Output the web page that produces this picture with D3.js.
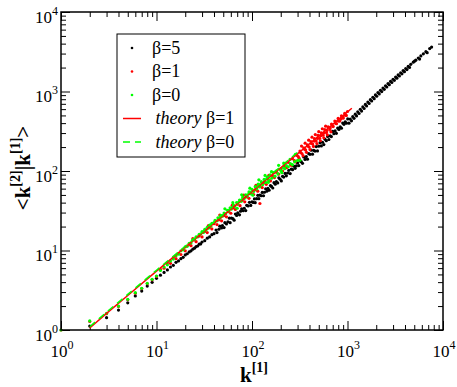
<!DOCTYPE html>
<html>
<head>
<meta charset="utf-8">
<script src="https://cdn.jsdelivr.net/npm/d3@7"></script>
<style>
  body { margin: 0; background: #fff; }
  svg text { font-family: "Liberation Serif", Tinos, "Times New Roman", Times, "DejaVu Serif", serif; }
</style>
</head>
<body>
<div id="grafico"></div>
<script>
// beta = 5 (black)
const beta5 = [
  [2,1.12],[3,1.43],[4,1.78],[5,2.2],[6,2.68],[7,3.09],[8,3.57],[9,3.98],[10,4.47],
  [11,4.9],[12,5.3],[13,5.7],[14,6.2],[15,6.5],[16,7.1],[17,7.4],[18,7.9],[19,8.2],[20,8.8],
  [21,9.1],[22,9.6],[23,9.9],[24,10.4],[25,10.7],[26,11.2],[27,11.4],[28,12.0],[29,12.1],[30,12.8],
  [32,13.3],[34,14.3],[36,14.8],[38,15.8],[40,16.3],
  [42,18.1],[43,16.8],[45,18.5],[46,20.2],[48,19.2],[49,20.6],[51,19.4],[52,22.4],[54,21.6],[56,23.0],
  [58,25.5],[59,22.4],[61,25.6],[63,25.2],[65,24.1],[67,28.8],[69,27.6],[71,29.8],[74,28.1],[76,31.2],
  [78,33.5],[81,31.6],[83,34.0],[86,31.8],[88,37.0],[91,36.4],[94,40.4],[97,36.9],[100,41.0],[103,40.2],
  [106,44.5],[108,40.0],[112,44.8],[115,49.5],[118,44.8],[121,49.6],[125,48.8],[128,53.8],[132,48.8],[135,54.0],
  [139,59.8],[143,55.8],[147,60.3],[151,57.4],[156,65.5],[160,64.0],[165,61.1],[170,71.4],[175,68.3],[180,73.8],
  [186,70.7],[191,82.1],[197,78.8],[203,75.1],[209,85.7],[215,83.9],[222,93.2],[229,87.0],[236,94.4],[243,102],
  [251,92.9],[258,106],[266,104],[274,115],[283,108],[291,116],[300,126],
  [309,117],[318,134],[328,131],[338,125],[348,150],[359,140],[370,152],[381,141],[393,165],[405,162],
  [417,183],[430,163],[443,182],[457,178],[471,203],[485,179],[500,205],[516,227],[532,207],[548,230],
  [565,215],[582,250],[600,240],[619,272],[638,249],[658,276],[678,271],[699,315],[720,295],[742,319],
  [765,298],[789,347],[813,333],[838,360],[864,346],[891,401],[918,386],[946,416],[975,400],[1005,452],
  [1036,400],[1068,450],[1101,428],[1135,482],[1170,460],[1206,518],[1243,493],[1281,555],[1321,529],[1362,596],
  [1404,568],[1447,640],[1492,611],[1538,687],[1585,657],[1634,736],[1684,706],[1736,789],[1790,759],[1845,846],
  [1902,813],[1961,905],[2022,871],[2084,968],[2148,932],[2214,1034],[2283,998],[2353,1103],[2426,1066],[2501,1178],
  [2578,1139],[2658,1257],[2740,1216],[2824,1339],[2911,1297],[3001,1426],[3094,1383],[3190,1519],[3288,1473],[3390,1618],
  [3494,1567],[3602,1722],[3713,1668],[3828,1831],[3946,1775],[4068,1947],[4194,1889],[4323,2070],[4457,2010],[4595,2200],
  [4883,2340],[5034,2410],[5190,2480],[5515,2640],[5686,2560],[5861,2800],[6229,2980],[6620,3170],[6825,3080],[7253,3470],[7600,3620]
]

// beta = 1 (red)
const beta1 = [
  [1,1],[2,1.28],[3,1.60],[4,1.97],[5,2.40],[6,2.90],[7,3.32],[8,3.82],[9,4.28],[10,4.72],
  [11,5.8],[12,6.0],[13,7.0],[14,6.9],[15,8.1],[16,7.9],[17,9.2],[18,8.9],[19,10.3],[20,9.9],
  [22,11.9],[23,11.5],[24,14.1],[25,13.6],[26,12.9],[28,15.2],[30,14.8],[32,17.4],[34,16.8],[35,20.6],[36,19.5],[38,18.7],
  [40,21.7],[43,21.2],[45,24.3],[46,27.9],[48,23.6],[51,27.5],[54,26.5],[57,30.7],[60,29.4],[62,36.9],[64,34.4],[67,32.8],
  [71,38.2],[75,36.6],[79,42.4],[82,49.7],[84,41.0],[88,47.2],[93,45.3],[98,52.5],[104,50.5],[109,58.3],[110,66.0],[115,55.7],
  [121,39.0],[121,64.5],[128,61.8],[134,71.3],[141,67.9],[148,78.6],[150,87.9],[156,75.0],[164,87.0],[172,82.6],[181,96.0],
  [190,91.3],[200,106],[209,100],[219,116],[230,110],[241,128],[253,121],[265,143],[278,135],[290,160],
  [305,152],[318,178],[333,166],[348,196],[364,184],[380,214],[397,200],[414,235],[432,218],[451,256],
  [470,238],[490,280],[511,258],[532,303],[555,282],[578,331],[602,305],[627,359],[653,333],[680,390],
  [708,362],[737,424],[767,393],[798,458],[830,425],[864,494],[899,462],[935,530],[972,500],[1000,560],
  [258,118],[284,130],[312,144],[342,156],[372,172],[405,186],[440,204],[478,221],[520,240],[565,262],[615,285],[670,311],
  [330,206],[360,224],[392,244],[425,266],[460,287],[500,312],[545,340],[590,366],
  [296,157],[322,171],[355,188],[386,205],[418,222],[448,238],[485,257],[525,278],[570,302],[610,323],
  [660,350],[700,371],[750,398],[800,424],[850,450],[900,477],[950,503]
]

// beta = 0 (green)
const beta0 = [
  [1,1],[2,1.30],[3,1.62],[4,2.0],[5,2.43],[6,2.95],[7,3.35],[8,3.87],[9,4.34],[10,4.78],
  [11,5.6],[12,6.2],[13,6.6],[14,7.4],[15,7.8],[16,8.6],[17,9.0],[18,9.9],[19,10.2],[20,11.1],
  [21,11.3],[22,12.3],[23,12.5],[24,13.6],[25,13.8],[26,14.9],[27,14.8],[28,16.0],[29,16.1],[30,17.3],
  [31,16.9],[32,18.4],[33,18.1],[34,19.6],[35,19.1],[36,20.8],[37,20.2],[38,22.0],[40,22.5],[41,23.9],
  [43,23.6],[44,25.8],[46,25.5],[47,27.6],[49,27.0],[51,29.6],[52,33.5],[53,29.0],[55,32.1],[57,31.3],[59,34.4],
  [61,33.2],[63,39.9],[64,37.3],[66,35.8],[69,40.1],[70,34.0],[71,38.5],[74,43.2],[77,41.6],[78,50.2],[80,46.8],[83,45.0],[86,50.2],
  [89,48.1],[93,54.5],[95,60.8],[96,51.7],[100,58.6],[102,49.6],[104,55.3],[108,63.5],[112,59.5],[116,68.4],[118,77.5],[120,63.0],[125,73.5],
  [129,67.2],[134,78.3],[137,88.0],[139,71.9],[144,84.0],[148,72.0],[150,76.8],[155,89.6],[160,98.2],[161,81.3],[167,95.2],[174,86.2],[180,100],
  [187,92.0],[190,118],[195,105],[203,99.5],[205,95.0],[211,111],[215,126],[220,107],[229,117],[240,113],[250,140],[252,124],[265,120],[280,131],
  [285,162],[300,136],[318,137]
]

// theory curves
const theory1 = [[2,1.06],[3,1.62],[5,2.72],[10,5.5],[20,11],[50,27.5],[100,55],[200,110],[500,275],[1110,615]]
const theory0 = [[2,1.1],[3,1.68],[5,2.8],[10,5.65],[20,11.3],[50,28.5],[100,57],[200,114],[300,172]]

const legendItems = [
  {label: 'β=5', color: '#000000', type: 'dot'},
  {label: 'β=1', color: '#ff0000', type: 'dot'},
  {label: 'β=0', color: '#00ff00', type: 'dot'},
  {label: 'β=1', color: '#ff0000', type: 'line'},
  {label: 'β=0', color: '#00ff00', type: 'dash'}
]

const decades = [0, 1, 2, 3, 4]

const width = 457
const height = 387
const mLeft = 61, mRight = 443, mTop = 12, mBottom = 330

const svg = d3.select('#grafico')
              .append('svg')
              .attr('width', width)
              .attr('height', height)
              .style('background', '#fff')

const x = d3.scaleLog().domain([1, 1e4]).range([mLeft, mRight])
const y = d3.scaleLog().domain([1, 1e4]).range([mBottom, mTop])

const isMajor = v => Math.abs(Math.log10(v) - Math.round(Math.log10(v))) < 1e-9
const minorX = x.ticks().filter(v => !isMajor(v))
const majorX = x.ticks().filter(isMajor)
const minorY = y.ticks().filter(v => !isMajor(v))
const majorY = y.ticks().filter(isMajor)

const axes = [
  [d3.axisBottom(x), `translate(0,${mBottom})`, minorX, majorX],
  [d3.axisTop(x), `translate(0,${mTop})`, minorX, majorX],
  [d3.axisLeft(y), `translate(${mLeft},0)`, minorY, majorY],
  [d3.axisRight(y), `translate(${mRight},0)`, minorY, majorY]
]

axes.forEach(([axis, tr, minor, major]) => {
  svg.append('g')
     .attr('transform', tr)
     .call(axis.tickValues(minor).tickSize(-5).tickSizeOuter(0).tickFormat(''))
     .call(g => g.select('.domain').remove())
  svg.append('g')
     .attr('transform', tr)
     .call(axis.tickValues(major).tickSize(-9).tickSizeOuter(0).tickFormat(''))
     .call(g => g.select('.domain').remove())
})

svg.selectAll('.tick line').attr('stroke', '#000').attr('stroke-width', 1)

// theory lines
const line = d3.line().x(d => x(d[0])).y(d => y(d[1]))

// scatter
const drawDots = (data, color) => {
  svg.append('g')
     .selectAll('circle')
     .data(data)
     .enter()
     .append('circle')
     .attr('cx', d => x(d[0]))
     .attr('cy', d => y(d[1]))
     .attr('r', 1.6)
     .style('fill', color)
}
drawDots(beta5, '#000000')
drawDots(beta1, '#ff0000')
drawDots(beta0, '#00ff00')

svg.append('path')
   .datum(theory1)
   .attr('d', line)
   .attr('fill', 'none')
   .attr('stroke', '#ff0000')
   .attr('stroke-width', 1.5)

svg.append('path')
   .datum(theory0)
   .attr('d', line)
   .attr('fill', 'none')
   .attr('stroke', '#00ff00')
   .attr('stroke-width', 1.5)
   .attr('stroke-dasharray', '7,5')

// frame
svg.append('rect')
   .attr('x', mLeft)
   .attr('y', mTop)
   .attr('width', mRight - mLeft)
   .attr('height', mBottom - mTop)
   .attr('fill', 'none')
   .attr('stroke', '#000')
   .attr('stroke-width', 1.5)

// tick labels
decades.forEach(d => {
  const tx = svg.append('text')
                .attr('x', x(10 ** d) + 1)
                .attr('y', 357)
                .attr('text-anchor', 'middle')
                .style('font-size', '17px')
  tx.append('tspan').text('10')
  tx.append('tspan').attr('dy', -8).style('font-size', '12px').text(d)

  const ty = svg.append('text')
                .attr('x', 58)
                .attr('y', y(10 ** d) + 10.5)
                .attr('text-anchor', 'end')
                .style('font-size', '17px')
  ty.append('tspan').text('10')
  ty.append('tspan').attr('dy', -8).style('font-size', '12px').text(d)
})

// axis titles
const xt = svg.append('text')
              .attr('x', 254)
              .attr('y', 382)
              .attr('text-anchor', 'middle')
              .style('font-weight', 'bold')
              .style('font-size', '21px')
xt.append('tspan').text('k')
xt.append('tspan').attr('dy', -10).style('font-size', '14px').text('[1]')

const yt = svg.append('text')
              .attr('transform', 'translate(30,168) rotate(-90)')
              .attr('text-anchor', 'middle')
              .style('font-weight', 'bold')
              .style('font-size', '21px')
yt.append('tspan').text('<k')
yt.append('tspan').attr('dy', -10).style('font-size', '14px').text('[2]')
yt.append('tspan').attr('dy', 10).text('|k')
yt.append('tspan').attr('dy', -10).style('font-size', '14px').text('[1]')
yt.append('tspan').attr('dy', 10).text('>')

// legend
const legend = svg.append('g')

legend.append('rect')
      .attr('x', 117)
      .attr('y', 34)
      .attr('width', 128)
      .attr('height', 123)
      .attr('fill', '#fff')
      .attr('stroke', '#000')
      .attr('stroke-width', 1)

const rows = legend.selectAll('g.item')
                   .data(legendItems)
                   .enter()
                   .append('g')
                   .attr('class', 'item')
                   .attr('transform', (d, i) => `translate(0,${48 + i * 23.5})`)

rows.filter(d => d.type === 'dot')
    .append('circle')
    .attr('cx', 132)
    .attr('cy', 0)
    .attr('r', 1.3)
    .style('fill', d => d.color)

rows.filter(d => d.type !== 'dot')
    .append('line')
    .attr('x1', 123)
    .attr('x2', 141)
    .attr('y1', 0)
    .attr('y2', 0)
    .attr('stroke', d => d.color)
    .attr('stroke-width', 1.5)
    .attr('stroke-dasharray', d => d.type === 'dash' ? '7,5' : null)

const labels = rows.append('text')
                   .attr('x', d => d.type === 'dot' ? 152 : 155.5)
                   .attr('y', 5.5)
                   .style('font-size', '18px')

labels.filter(d => d.type !== 'dot')
      .append('tspan')
      .style('font-style', 'italic')
      .text('theory ')
labels.append('tspan').text(d => d.label)
</script>
</body>
</html>
